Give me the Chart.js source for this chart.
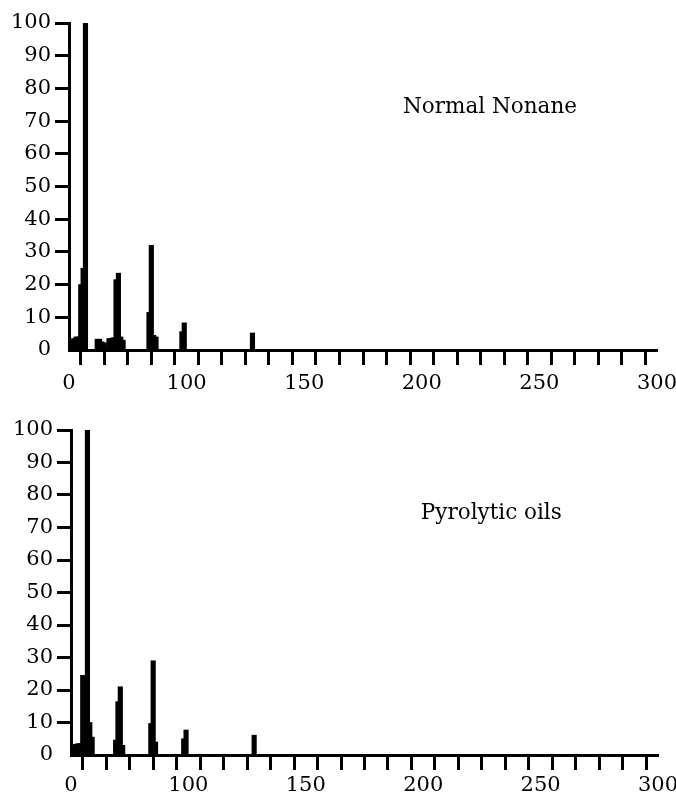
<!DOCTYPE html>
<html>
<head>
<meta charset="utf-8">
<script src="https://cdn.jsdelivr.net/npm/chart.js@4.4.1/dist/chart.umd.min.js"></script>
<style>
  html, body { margin: 0; padding: 0; background: #fff; }
  #wrap { position: relative; width: 676px; height: 800px; }
  canvas { position: absolute; left: 0; }
  #c1 { top: 0; }
  #c2 { top: 400px; }
</style>
</head>
<body>
<div id="wrap">
  <canvas id="c1" width="676" height="400"></canvas>
  <canvas id="c2" width="676" height="400"></canvas>
</div>
<script>
// ---- Data (m/z vs relative intensity) ----
const nonaneMz        = [51, 52, 53, 54, 55, 56, 57, 62, 63, 64, 65, 67, 68, 69, 70, 71, 72, 73, 84, 85, 86, 87, 98, 99, 128];
const nonaneIntensity = [3, 3.5, 4, 4, 20, 25, 100, 3.3, 3.3, 2.5, 2.2, 3.5, 3.6, 3.8, 21.5, 23.5, 4, 3, 11.5, 32, 4.5, 4, 5.6, 8.3, 5.2];

const pyroMz          = [51, 52, 53, 54, 55, 56, 57, 58, 59, 69, 70, 71, 72, 84, 85, 86, 98, 99, 128];
const pyroIntensity   = [2.5, 3.3, 3.5, 3.5, 24.5, 5, 100, 10, 5.5, 4.6, 16.4, 21, 3, 9.7, 29, 4, 5, 7.7, 6.1];

// x-axis tick labels as printed (first label "0" sits at the axis origin)
const xLabelValues = [50, 100, 150, 200, 250, 300];
const xLabelTexts  = ['0', '100', '150', '200', '250', '300'];

const panelTitles = ['Normal Nonane', 'Pyrolytic oils'];

Chart.defaults.font.family = "'DejaVu Serif', serif";
Chart.defaults.color = '#000';

const panelLabel = {
  id: 'panelLabel',
  afterDraw(chart, args, opts) {
    const { ctx, scales: { x, y } } = chart;
    ctx.save();
    ctx.font = "21.5px 'DejaVu Serif', serif";
    ctx.fillStyle = '#000';
    ctx.textAlign = 'center';
    ctx.textBaseline = 'alphabetic';
    ctx.fillText(opts.text, x.getPixelForValue(opts.x), y.getPixelForValue(opts.y));
    ctx.restore();
  }
};

function makeChart(canvasId, mz, intensity, title, geo) {
  const pts = mz.map((m, i) => ({ x: m, y: intensity[i] }));
  return new Chart(document.getElementById(canvasId), {
    type: 'bar',
    data: {
      datasets: [{
        data: pts,
        backgroundColor: '#000',
        borderWidth: 0,
        barThickness: 4.5
      }]
    },
    plugins: [panelLabel],
    options: {
      responsive: false,
      animation: false,
      layout: { padding: { top: geo.top, right: geo.right, left: 0, bottom: 0 } },
      plugins: {
        legend: { display: false },
        tooltip: { enabled: false },
        panelLabel: { text: title, x: geo.tx, y: 72.5 }
      },
      scales: {
        x: {
          type: 'linear',
          min: 50, max: 300,
          offset: false,
          afterFit: s => {
            s.height = geo.xh;
            s.paddingLeft = 0; s.paddingRight = 0;
          },
          border: { display: true, color: '#000', width: 3 },
          grid: {
            drawOnChartArea: false,
            drawTicks: true,
            tickLength: 15,
            tickWidth: 3,
            tickColor: c => (c.index === 0 ? 'rgba(0,0,0,0)' : '#000')
          },
          ticks: {
            stepSize: 10,
            autoSkip: false,
            maxRotation: 0,
            padding: geo.xpad,
            font: { size: 21, lineHeight: 1 },
            callback: v => {
              const i = xLabelValues.indexOf(v);
              return i >= 0 ? xLabelTexts[i] : '';
            }
          }
        },
        y: {
          min: 0, max: 100,
          afterFit: s => {
            s.width = geo.yw;
            s.paddingTop = 0; s.paddingBottom = 0;
          },
          border: { display: true, color: '#000', width: 3 },
          grid: {
            drawOnChartArea: false,
            drawTicks: true,
            tickLength: 14,
            tickWidth: 3,
            tickColor: c => (c.index === 0 ? 'rgba(0,0,0,0)' : '#000')
          },
          ticks: {
            stepSize: 10,
            padding: 4,
            font: { size: 21, lineHeight: 1 }
          }
        }
      }
    }
  });
}

makeChart('c1', nonaneMz, nonaneIntensity, panelTitles[0], { top: 23, right: 19, xh: 50, yw: 69, xpad: 8, tx: 229 });
makeChart('c2', pyroMz, pyroIntensity, panelTitles[1], { top: 30, right: 18, xh: 45, yw: 71, xpad: 5, tx: 229 });
</script>
</body>
</html>
